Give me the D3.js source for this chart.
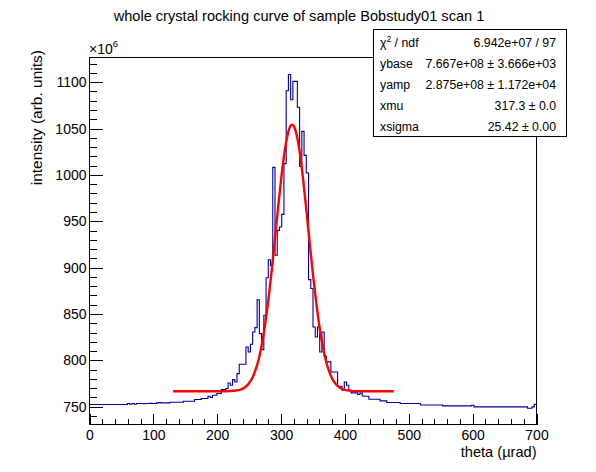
<!doctype html>
<html lang="en">
<head>
<meta charset="UTF-8">
<title>whole crystal rocking curve</title>
<style>
body { margin: 0; background: #fff; }
svg { font-family: "Liberation Sans", Arial, Helvetica, sans-serif; }
.axis path { display: none; }
.axis line { stroke: #000; stroke-width: 1; shape-rendering: crispEdges; }
.axis text { font-size: 14px; fill: #000; }
</style>
</head>
<body>
<script src="https://cdn.jsdelivr.net/npm/d3@7"></script>
<script>
// histogram range (µrad) and bin contents (x10^6)
var thetaRange = [0, 700];
var counts = [
  752.4, 752.4, 752.4, 752.4, 752.4, 752.4, 752.4, 752.4, 752.4, 752.4,
  752.4, 752.4, 752.4, 752.4, 752.4, 752.4, 752.4, 753.4, 752.6, 753.4,
  752.6, 753.4, 753.4, 753.4, 753.2, 753.4, 753.4, 753.6, 753.4, 753.4,
  754.1, 754.4, 754.1, 754.1, 754.1, 754.1, 754.8, 754.8, 754.8, 754.8,
  754.8, 754.8, 755.9, 755.9, 755.9, 755.9, 755.9, 757.8, 757.8, 757.8,
  758.8, 758.8, 758.8, 761.3, 759.9, 762.4, 762.4, 764.2, 764.2, 768.5,
  768.5, 769.6, 775.6, 773.1, 779.2, 776.7, 785.7, 795.8, 795.8, 795.8,
  814.4, 809.0, 817.3, 830.6, 835.3, 865.4, 828.8, 811.6, 848.6, 889.1,
  908.5, 902.4, 1008.1, 913.3, 940.2, 943.8, 957.4, 1012.1, 1090.7, 1108.3,
  1081.0, 1100.8, 1100.8, 1073.0, 1009.2, 1046.9, 1021.0, 1002.0, 887.0, 877.4,
  836.0, 825.2, 836.0, 809.0, 830.6, 804.4, 798.3, 798.3, 787.5, 787.5,
  787.5, 772.1, 772.1, 767.8, 776.7, 773.2, 767.8, 764.9, 764.9, 764.9,
  763.1, 764.9, 761.5, 761.3, 761.3, 758.1, 758.1, 758.1, 758.1, 758.1,
  756.3, 756.3, 756.3, 754.5, 754.5, 754.5, 754.5, 754.5, 754.5, 753.4,
  753.4, 753.4, 753.4, 753.4, 753.4, 753.4, 753.4, 753.4, 751.9, 751.9,
  751.9, 751.9, 751.9, 751.9, 751.9, 751.9, 751.9, 751.9, 750.9, 750.9,
  750.9, 750.9, 750.9, 750.9, 750.9, 750.9, 750.9, 750.9, 750.9, 750.9,
  750.9, 751.6, 749.8, 749.8, 749.8, 749.8, 749.8, 749.8, 749.8, 749.8,
  749.8, 749.8, 749.8, 749.8, 749.8, 749.8, 749.8, 749.8, 749.8, 749.8,
  749.8, 749.8, 749.8, 749.8, 749.8, 749.8, 748.4, 748.4, 749.8, 752.7
];

// fitted curve, sampled off the red line
var fitTheta = [131, 140, 150, 160, 170, 180, 190, 200, 210, 220,
  230, 235, 240, 245, 250, 255, 260, 265, 270, 275,
  280, 285, 290, 295, 300, 305, 310, 315, 317.3, 320,
  325, 330, 335, 340, 345, 350, 355, 360, 365, 370,
  375, 380, 385, 390, 395, 400, 410, 420, 430, 440,
  450, 460, 470, 476.5];
var fitValues = [766.7, 766.7, 766.7, 766.7, 766.7, 766.7, 766.7, 766.7, 766.7, 766.9,
  767.5, 768.2, 769.5, 771.8, 775.5, 781.0, 789.6, 801.2, 817.6, 838.9,
  864.4, 895.0, 928.2, 962.4, 994.7, 1022.4, 1042.6, 1053.0, 1054.2, 1052.6,
  1041.3, 1020.4, 992.3, 959.7, 925.4, 892.4, 862.4, 836.8, 816.2, 800.2,
  788.6, 780.4, 775.0, 771.5, 769.4, 768.1, 767.1, 766.8, 766.7, 766.7,
  766.7, 766.7, 766.7, 766.7];

var xTicks = [0, 100, 200, 300, 400, 500, 600, 700];
var yTicks = [750, 800, 850, 900, 950, 1000, 1050, 1100];

var statNames = ["χ^2 / ndf", "ybase", "yamp", "xmu", "xsigma"];
var statValues = ["6.942e+07 / 97", "7.667e+08 ± 3.666e+03", "2.875e+08 ± 1.172e+04",
  "317.3 ± 0.0", "25.42 ± 0.00"];

var width = 596, height = 472,
    fLeft = 89.5, fRight = 536.5, fTop = 57.5, fBottom = 424.5;

var svg = d3.select("body").append("svg")
  .attr("width", width)
  .attr("height", height);

var x = d3.scaleLinear().domain(thetaRange).range([fLeft, fRight]);
var y = d3.scaleLinear().domain([730.8, 1126.6]).range([fBottom, fTop]);

// minor ticks
var xMinor = d3.range(0, 701, 20).filter(function(d){ return d % 100 !== 0; });
var yMinor = d3.range(740, 1121, 10).filter(function(d){ return d % 50 !== 0; });

svg.append("g").attr("class", "axis")
  .attr("transform", "translate(0," + fBottom + ")")
  .call(d3.axisBottom(x).tickValues(xMinor).tickFormat("").tickSizeInner(-5.5).tickSizeOuter(0));
svg.append("g").attr("class", "axis")
  .attr("transform", "translate(0," + fBottom + ")")
  .call(d3.axisBottom(x).tickValues(xTicks).tickFormat(d3.format("d")).tickSizeInner(-10.5).tickSizeOuter(0).tickPadding(6));

svg.append("g").attr("class", "axis")
  .attr("transform", "translate(" + fLeft + ",0)")
  .call(d3.axisLeft(y).tickValues(yMinor).tickFormat("").tickSizeInner(-7).tickSizeOuter(0));
svg.append("g").attr("class", "axis")
  .attr("transform", "translate(" + fLeft + ",0)")
  .call(d3.axisLeft(y).tickValues(yTicks).tickFormat(d3.format("d")).tickSizeInner(-13.5).tickSizeOuter(0).tickPadding(3));

// frame
svg.append("rect")
  .attr("x", fLeft).attr("y", fTop)
  .attr("width", fRight - fLeft).attr("height", fBottom - fTop)
  .attr("fill", "none").attr("stroke", "#000").attr("stroke-width", 1)
  .style("shape-rendering", "crispEdges");

// histogram as steps
var binW = (thetaRange[1] - thetaRange[0]) / counts.length;
var steps = counts.map(function(c, i){ return [thetaRange[0] + i * binW, c]; });
steps.push([thetaRange[1], counts[counts.length - 1]]);

svg.append("path")
  .datum(steps)
  .attr("fill", "none")
  .attr("stroke", "#000099")
  .attr("stroke-width", 1.1)
  .attr("d", d3.line()
    .x(function(d){ return x(d[0]); })
    .y(function(d){ return y(d[1]); })
    .curve(d3.curveStepAfter));

// fit
svg.append("path")
  .datum(fitTheta.map(function(t, i){ return [t, fitValues[i]]; }))
  .attr("fill", "none")
  .attr("stroke", "#ff0000")
  .attr("stroke-width", 2.4)
  .attr("d", d3.line()
    .x(function(d){ return x(d[0]); })
    .y(function(d){ return y(d[1]); })
    .curve(d3.curveMonotoneX));

// title and axis titles
svg.append("text")
  .attr("x", 299).attr("y", 21)
  .attr("text-anchor", "middle")
  .style("font-size", "14.6px")
  .text("whole crystal rocking curve of sample Bobstudy01 scan 1");

svg.append("text")
  .attr("x", fRight).attr("y", 457)
  .attr("text-anchor", "end")
  .style("font-size", "14.6px")
  .text("theta (µrad)");

svg.append("text")
  .attr("transform", "translate(41.5,50) rotate(-90)")
  .attr("text-anchor", "end")
  .style("font-size", "15.5px")
  .text("intensity (arb. units)");

var exp = svg.append("text")
  .attr("x", fLeft - 0.5).attr("y", 54)
  .style("font-size", "14px")
  .text("×10");
exp.append("tspan")
  .attr("dy", -7)
  .style("font-size", "9.5px")
  .text("6");

// stats box
var box = svg.append("g");
box.append("rect")
  .attr("x", 373.5).attr("y", 29.5)
  .attr("width", 193).attr("height", 107)
  .attr("fill", "#fff").attr("stroke", "#000").attr("stroke-width", 1)
  .style("shape-rendering", "crispEdges");

statNames.forEach(function(name, i){
  var yy = 43 + i * 20.8 + 4.4;
  var t = box.append("text")
    .attr("x", 380).attr("y", yy)
    .style("font-size", "12.3px");
  var parts = name.split("^");
  if (parts.length > 1) {
    t.append("tspan").text(parts[0]);
    t.append("tspan").attr("dy", -5).style("font-size", "8.5px").text(parts[1].charAt(0));
    t.append("tspan").attr("dy", 5).text(parts[1].slice(1));
  } else {
    t.text(name);
  }
  box.append("text")
    .attr("x", 556).attr("y", yy)
    .attr("text-anchor", "end")
    .style("font-size", "12.3px")
    .text(statValues[i]);
});
</script>
</body>
</html>
